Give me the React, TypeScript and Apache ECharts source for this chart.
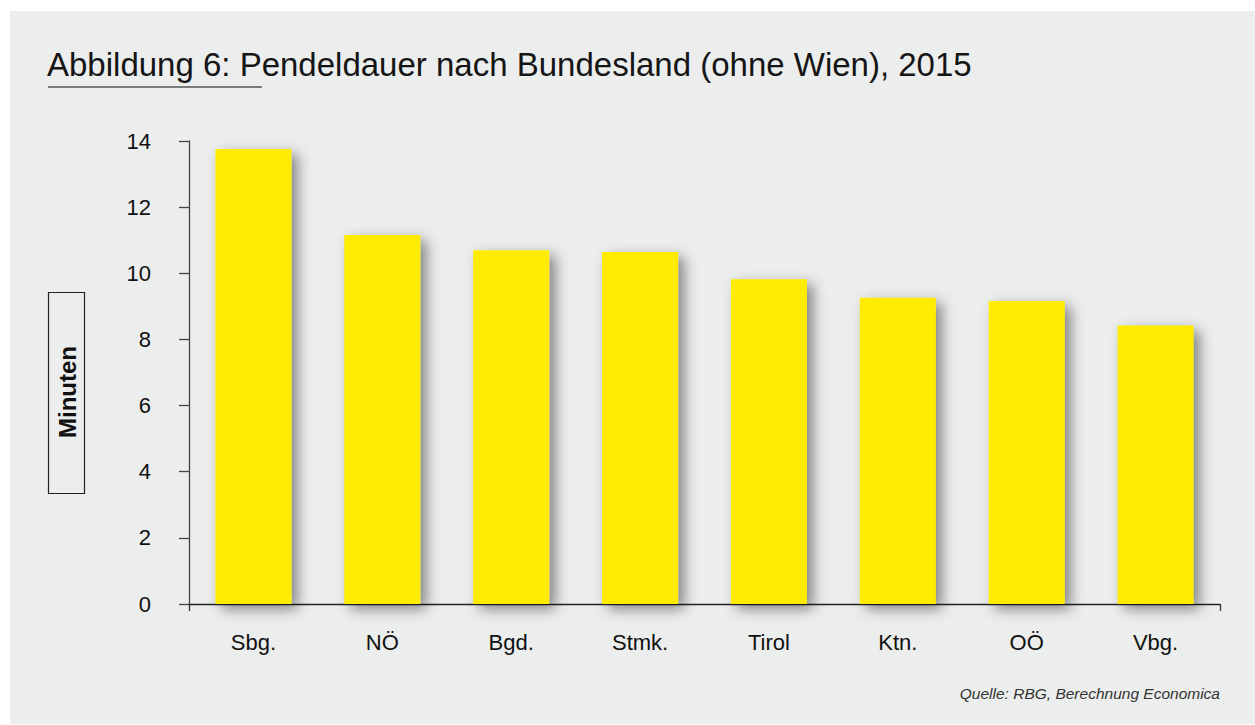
import React, { useEffect, useRef } from "react";
import * as echarts from "echarts";

const categories = ["Sbg.", "NÖ", "Bgd.", "Stmk.", "Tirol", "Ktn.", "OÖ", "Vbg."];
const values = [13.76, 11.16, 10.7, 10.64, 9.82, 9.26, 9.16, 8.42];
const yTicks = { min: 0, max: 14, interval: 2 };
const titleText = "Abbildung 6: Pendeldauer nach Bundesland (ohne Wien), 2015";
const yAxisName = "Minuten";
const sourceText = "Quelle: RBG, Berechnung Economica";

const FONT = "Liberation Sans";

export default function App() {
  const ref = useRef<HTMLDivElement>(null);
  useEffect(() => {
    if (!ref.current) return;
    const chart = echarts.init(ref.current, undefined, { renderer: "svg" });
    chart.setOption({
      animation: false,
      backgroundColor: "#ffffff",
      graphic: [
        {
          type: "rect",
          z: -10,
          silent: true,
          shape: { x: 10, y: 11, width: 1245, height: 713 },
          style: { fill: "#ECEDED" },
        },
        {
          type: "text",
          x: 47,
          y: 64,
          style: {
            text: titleText,
            font: `33px "${FONT}"`,
            fill: "#151515",
            align: "left",
            verticalAlign: "middle",
          },
        },
        {
          type: "line",
          shape: { x1: 48, y1: 87, x2: 262, y2: 87 },
          style: { stroke: "#555", lineWidth: 1.5 },
        },
        {
          type: "rect",
          shape: { x: 48.5, y: 292.5, width: 36, height: 201 },
          style: { fill: "none", stroke: "#222", lineWidth: 1.2 },
        },
        {
          type: "text",
          x: 67,
          y: 392,
          rotation: Math.PI / 2,
          style: {
            text: yAxisName,
            font: `bold 24px "${FONT}"`,
            fill: "#111",
            align: "center",
            verticalAlign: "middle",
          },
        },
        {
          type: "text",
          x: 1220,
          y: 701,
          style: {
            text: sourceText,
            font: `italic 15.5px "${FONT}"`,
            fill: "#333",
            align: "right",
            verticalAlign: "bottom",
          },
        },
      ],
      grid: { left: 189, right: 35, top: 141, bottom: 121, containLabel: false },
      xAxis: {
        type: "category",
        data: categories,
        boundaryGap: true,
        axisLine: { show: true, lineStyle: { color: "#222", width: 1.3 } },
        axisTick: {
          show: true,
          length: 7,
          interval: (i: number) => i === 0,
          lineStyle: { color: "#333", width: 1.3 },
        },
        axisLabel: {
          margin: 27,
          fontFamily: FONT,
          fontSize: 22,
          color: "#111",
        },
        splitLine: { show: false },
      },
      yAxis: {
        type: "value",
        min: yTicks.min,
        max: yTicks.max,
        interval: yTicks.interval,
        axisLine: { show: true, lineStyle: { color: "#444", width: 1.3 } },
        axisTick: { show: true, length: 10, lineStyle: { color: "#444", width: 1.3 } },
        axisLabel: {
          margin: 38,
          fontFamily: FONT,
          fontSize: 22,
          color: "#111",
        },
        splitLine: { show: false },
      },
      series: [
        {
          type: "bar",
          data: values,
          barWidth: 76,
          itemStyle: {
            color: "#FFEC00",
            shadowColor: "rgba(0,0,0,0.45)",
            shadowBlur: 14,
            shadowOffsetX: 6,
            shadowOffsetY: 5,
          },
        },
      ],
    });
    return () => chart.dispose();
  }, []);
  return (
    <div
      ref={ref}
      style={{ position: "fixed", left: 0, top: 0, width: 1255, height: 725 }}
    />
  );
}
